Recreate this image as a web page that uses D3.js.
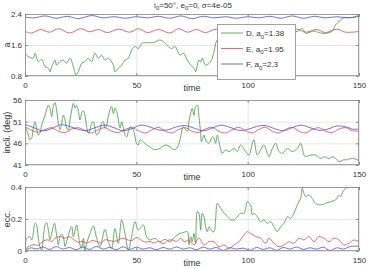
<!DOCTYPE html>
<html>
<head>
<meta charset="utf-8">
<script src="https://cdn.jsdelivr.net/npm/d3@7"></script>
<style>
  body { margin: 0; background: #fff; }
  svg { display: block; font-family: "Liberation Sans", Arial, sans-serif; }
</style>
</head>
<body>
<div id="chart"></div>
<script>
// tick labels
const timeTicks = [0, 50, 100, 150];
const aTicks = [0.8, 1.6, 2.4];
const incTicks = [41, 46, 51, 56];
const eccTicks = [0, 0.2, 0.4];

// series, [time, value]
const D_a = [[0,1.38],[1.5,1.30],[3.7,1.26],[4.5,1.39],[6,1.17],[7.5,1.23],[9,1.04],[10.5,1.00],[11.2,0.91],[12,1.04],[13.5,1.21],[14.2,1.08],[15.7,1.17],[17.2,1.21],[18.7,1.13],[20.2,1.26],[21.7,1.04],[22.9,0.83],[23.9,0.91],[25.5,1.13],[26.9,1.17],[28.4,1.26],[29.9,1.17],[31.4,1.39],[32.9,1.26],[34.4,1.34],[35.9,1.21],[37.4,1.26],[39.7,1.08],[40.4,0.91],[41.9,1.00],[43.4,1.08],[44.9,1.21],[46.4,1.26],[47.9,1.47],[49.4,1.56],[50.9,1.51],[52.4,1.64],[54.6,1.66],[57.6,1.66],[60.6,1.73],[62.1,1.69],[64.4,1.56],[65.9,1.51],[67.4,1.56],[69.6,1.34],[71.1,1.39],[72.9,1.21],[74.4,1.08],[75.9,1.00],[76.6,0.91],[78.1,1.21],[78.9,1.17],[79.6,1.26],[81.1,1.08],[83.4,1.17],[84.9,1.43],[86.4,1.73],[90,1.78],[100,1.82],[110,1.86],[120,1.92],[121.5,1.94],[123,1.97],[124.5,2.03],[126,1.90],[127.5,1.92],[129.8,1.96],[132,1.92],[134.3,1.90],[136.6,1.92],[138,1.96],[139.5,2.12],[141,2.20],[142.5,2.29],[144.7,2.31],[147,2.31],[150,2.37]];
const E_a = [[0,1.95],[3,1.91],[7,2.00],[11,1.93],[15,2.02],[20,1.91],[25,2.02],[29,1.94],[33,2.00],[37,1.92],[42,2.01],[47,1.93],[51,2.02],[55,1.92],[60,2.00],[65,1.91],[69,2.02],[73,1.93],[77,2.00],[81,1.92],[86,2.01],[90,1.93],[95,2.01],[99,1.92],[104,2.00],[108,1.93],[113,2.01],[117,1.92],[122,2.01],[126,1.93],[131,2.00],[135,1.92],[140,2.01],[144,1.93],[150,1.95]];
const F_a = [[0,2.32],[4,2.30],[9,2.35],[14,2.29],[19,2.34],[24,2.28],[30,2.36],[35,2.30],[40,2.33],[45,2.29],[50,2.33],[55,2.30],[60,2.34],[65,2.29],[70,2.35],[75,2.28],[80,2.34],[85,2.30],[90,2.33],[95,2.29],[100,2.33],[105,2.30],[110,2.34],[115,2.29],[120,2.35],[125,2.29],[130,2.34],[135,2.30],[140,2.33],[145,2.30],[150,2.34]];

const D_inc = [[0,50.2],[1.5,47.9],[2.2,46.8],[3,47.2],[3.7,49.5],[4.5,51.0],[5.2,49.5],[6,47.9],[6.7,48.3],[7.5,50.2],[9,52.5],[9.7,53.7],[10.5,54.8],[11.2,54.1],[12,52.2],[12.7,54.5],[13.5,55.4],[14.2,53.7],[15,50.6],[15.7,49.1],[16.5,50.6],[17.2,52.5],[18,51.4],[18.7,49.5],[19.5,49.1],[20.2,51.4],[21,53.7],[21.7,55.2],[22.5,54.1],[23.2,54.8],[24,53.3],[24.7,51.4],[25.4,52.9],[26.2,53.5],[26.9,52.5],[27.7,49.8],[28.4,48.3],[29.2,49.1],[29.9,50.6],[30.7,51.0],[31.4,49.5],[32.2,47.9],[33.7,49.1],[34.4,50.6],[35.2,51.0],[35.9,49.5],[36.7,50.2],[37.4,52.2],[38.2,53.7],[38.9,54.5],[39.7,52.9],[40.4,54.1],[41.2,53.3],[41.9,51.4],[42.7,49.5],[43.4,51.0],[44.2,49.5],[44.9,47.9],[45.7,47.5],[46.4,48.7],[47.2,49.8],[48.6,49.1],[50.1,46.0],[50.9,45.6],[51.6,46.8],[53.1,46.4],[54.6,45.6],[56.1,45.2],[57.6,44.6],[59.1,44.6],[60.6,44.8],[62.1,45.4],[63.6,45.6],[65.1,45.2],[66.6,44.6],[68.1,44.8],[69.6,46.8],[71.1,49.8],[72.9,48.7],[73.6,51.0],[74.4,52.9],[75.1,54.1],[75.9,52.5],[76.6,54.5],[77.4,54.8],[78.1,52.2],[78.9,48.3],[79.2,46.4],[80.4,47.9],[81.1,46.8],[82.6,46.0],[84.1,47.5],[84.9,47.2],[85.6,46.0],[86.4,47.9],[87.1,46.4],[88.6,43.7],[90.1,44.5],[91.6,44.1],[93.9,44.8],[95.4,44.1],[96.8,45.6],[99.1,44.1],[100.6,43.3],[102.1,46.0],[102.8,46.8],[104.3,43.3],[105.8,44.5],[107.3,45.6],[108.8,43.7],[109.6,42.9],[111.1,44.8],[112.6,46.0],[114.1,44.1],[115.6,43.7],[117.8,44.8],[120,44.1],[122.3,44.8],[123.8,46.0],[125.3,43.3],[126,42.9],[128.3,43.3],[130.5,43.3],[132.8,42.5],[134.3,42.9],[136.5,42.5],[138,42.9],[139.5,42.5],[141,41.8],[143.2,42.2],[144.7,42.2],[146.2,42.5],[147.7,42.5],[150,42.0]];
const E_inc = [[0,49.9],[3,49.0],[6,48.6],[9,49.2],[12,49.6],[15,48.8],[18,48.5],[21,49.3],[24,49.6],[27,48.9],[30,48.4],[33,49.2],[36,49.6],[39,48.8],[42,48.5],[45,49.2],[48,49.6],[51,48.9],[54,48.4],[57,49.1],[60,49.7],[63,48.8],[66,48.4],[69,49.2],[72,49.6],[75,48.8],[78,48.5],[81,49.3],[84,49.7],[87,48.8],[90,48.4],[93,49.1],[96,49.7],[99,48.9],[102,48.4],[105,49.2],[108,49.7],[111,48.8],[114,48.4],[117,49.2],[120,49.7],[123,48.8],[126,48.4],[129,49.2],[132,49.6],[135,48.8],[138,48.5],[141,49.3],[144,49.6],[147,48.9],[150,48.8]];
const F_inc = [[0,50.4],[4,49.6],[8,48.9],[12,49.4],[16,50.3],[20,49.9],[24,49.2],[28,49.0],[32,49.7],[36,50.2],[40,49.6],[44,48.9],[48,49.4],[52,50.2],[56,49.8],[60,49.1],[64,49.1],[68,49.8],[72,50.1],[76,49.5],[80,48.9],[84,49.5],[88,50.2],[92,49.7],[96,49.0],[100,49.2],[104,49.9],[108,50.1],[112,49.4],[116,48.9],[120,49.6],[124,50.2],[128,49.6],[132,49.0],[136,49.3],[140,50.0],[144,49.8],[148,49.2],[150,49.4]];

const D_ecc = [[0,0.0],[0.75,0.079],[2.2,0.090],[3,0.069],[3.7,0.11],[4.5,0.173],[5.2,0.163],[6,0.079],[6.7,0.027],[7.5,0.006],[8.2,0.079],[9,0.163],[9.7,0.177],[10.5,0.131],[11.2,0.069],[12,0.11],[13.2,0.173],[14.2,0.10],[15,0.038],[15.7,0.09],[16.5,0.106],[17.2,0.09],[18,0.027],[18.7,0.058],[20.2,0.131],[21,0.152],[21.7,0.09],[22.5,0.131],[23.2,0.163],[24,0.10],[24.7,0.038],[25.4,0.017],[26.2,0.079],[26.9,0.0],[27.7,0.048],[29.2,0.11],[30.7,0.156],[32.2,0.079],[33.7,0.027],[35.9,0.135],[37.4,0.058],[38.9,0.017],[40.4,0.14],[41.9,0.048],[43.4,0.194],[44.9,0.11],[46.4,0.006],[47.9,0.09],[49.4,0.183],[50.9,0.131],[53.1,0.163],[54.6,0.09],[56.1,0.069],[58.4,0.079],[60.6,0.058],[62.9,0.073],[65.1,0.058],[67.4,0.09],[69.6,0.11],[71.1,0.115],[72.9,0.121],[73.6,0.038],[74.4,0.09],[75.1,0.058],[75.9,0.11],[76.6,0.048],[77.4,0.246],[78.1,0.236],[78.9,0.131],[79.6,0.236],[80.4,0.215],[81.1,0.152],[81.9,0.121],[82.6,0.152],[84.1,0.121],[84.9,0.121],[85.6,0.194],[86.4,0.298],[87.9,0.267],[89.4,0.236],[90.9,0.215],[92.4,0.194],[93.9,0.194],[95.4,0.215],[96.8,0.236],[98.3,0.236],[99.1,0.267],[99.8,0.308],[101.3,0.288],[102.1,0.225],[102.8,0.236],[104.3,0.215],[105.8,0.183],[107.3,0.194],[108.8,0.173],[110.3,0.183],[111.8,0.152],[113.3,0.121],[114.8,0.152],[116.3,0.173],[117.8,0.215],[119.3,0.204],[120.8,0.236],[122.3,0.288],[123.8,0.329],[124.5,0.392],[125.3,0.360],[126,0.340],[127.5,0.350],[129,0.329],[130.5,0.298],[132.8,0.288],[135,0.298],[137.3,0.308],[139.5,0.319],[141,0.350],[141.7,0.340],[143.2,0.381],[144.7,0.398],[146.2,0.399],[147.7,0.398],[150,0.398]];
const E_ecc = [[0,0.01],[2,0.03],[4,0.04],[6,0.035],[8,0.06],[10,0.07],[12,0.06],[14,0.085],[16,0.09],[18,0.08],[20,0.09],[22,0.07],[24,0.055],[26,0.06],[28,0.05],[30,0.065],[32,0.06],[34,0.05],[36,0.07],[38,0.065],[40,0.06],[42,0.07],[44,0.08],[46,0.07],[48,0.065],[50,0.085],[52,0.07],[54,0.055],[56,0.06],[58,0.05],[60,0.06],[62,0.045],[64,0.065],[66,0.07],[68,0.06],[70,0.08],[71.4,0.058],[73.6,0.069],[75.9,0.038],[78.1,0.08],[80.4,0.038],[82.6,0.058],[84.9,0.058],[87.1,0.027],[89.4,0.038],[91.6,0.017],[93.9,0.038],[96.1,0.058],[98.3,0.10],[99.8,0.12],[101.3,0.11],[103.6,0.09],[105.8,0.08],[108.1,0.048],[109.6,0.08],[111.8,0.048],[114.1,0.027],[116.3,0.038],[118.5,0.058],[120.8,0.048],[123,0.08],[125.3,0.069],[127.5,0.09],[129.8,0.058],[132,0.09],[134.3,0.08],[136.5,0.058],[138.8,0.08],[141,0.069],[143.2,0.038],[145.5,0.048],[147.7,0.069],[150,0.058]];
const F_ecc = [[0,0.005],[3,0.02],[5,0.012],[8,0.025],[11,0.01],[14,0.028],[17,0.012],[20,0.022],[23,0.008],[26,0.025],[29,0.01],[32,0.028],[35,0.012],[38,0.022],[41,0.008],[44,0.026],[47,0.01],[50,0.024],[53,0.012],[56,0.02],[59,0.008],[62,0.022],[65,0.012],[68,0.025],[71,0.012],[74,0.02],[77,0.008],[80,0.024],[83,0.012],[86,0.022],[89,0.003],[92,0.02],[95,0.012],[98,0.018],[101,0.005],[104,0.022],[107,0.01],[110,0.02],[113,0.004],[116,0.022],[119,0.012],[122,0.025],[125,0.01],[128,0.02],[131,0.012],[134,0.024],[137,0.003],[140,0.02],[143,0.012],[146,0.028],[150,0.03]];

const names = ["D", "E", "F"];
const a0 = ["1.38", "1.95", "2.3"];
const colors = ["#3e9a3e", "#e3404e", "#4a4ae0"];

const W = 368, H = 269;
const svg = d3.select("#chart").append("svg").attr("width", W).attr("height", H);

const x = d3.scaleLinear().domain([0, 150]).range([25, 359]);

const panels = [
  { top: 14, bottom: 76, domain: [0.8, 2.4], ticks: aTicks, label: "a", fmt: d3.format(".1f"), series: [D_a, E_a, F_a] },
  { top: 100, bottom: 165, domain: [41, 56], ticks: incTicks, label: "incli. (deg)", fmt: d3.format("d"), series: [D_inc, E_inc, F_inc] },
  { top: 187, bottom: 251, domain: [0, 0.4], ticks: eccTicks, label: "ecc.", fmt: d => d === 0 ? "0" : d3.format(".1f")(d), series: [D_ecc, E_ecc, F_ecc] }
];

const textCol = "#333";
const axisCol = "#8a8a8a";

panels.forEach((p, i) => {
  const y = d3.scaleLinear().domain(p.domain).range([p.bottom, p.top]);
  const g = svg.append("g");
  const h = p.bottom - p.top;
  const w = x.range()[1] - x.range()[0];

  // grid
  g.append("g").attr("transform", `translate(0,${p.bottom})`)
    .call(d3.axisBottom(x).tickValues(timeTicks).tickSize(-h).tickFormat(""))
    .call(s => s.select(".domain").remove())
    .selectAll("line").attr("stroke", "#e6e6e6");
  g.append("g").attr("transform", `translate(${x.range()[0]},0)`)
    .call(d3.axisLeft(y).tickValues(p.ticks).tickSize(-w).tickFormat(""))
    .call(s => s.select(".domain").remove())
    .selectAll("line").attr("stroke", "#e6e6e6");

  // lines
  const clipId = "clip" + i;
  svg.append("clipPath").attr("id", clipId).append("rect")
    .attr("x", x.range()[0]).attr("y", p.top).attr("width", w).attr("height", h);
  const line = d3.line().x(d => x(d[0])).y(d => y(d[1])).curve(d3.curveCatmullRom);
  p.series.forEach((s, k) => {
    g.append("path").datum(s)
      .attr("clip-path", `url(#${clipId})`)
      .attr("fill", "none").attr("stroke", colors[k]).attr("stroke-width", 0.8)
      .attr("d", line);
  });

  // box + inward ticks
  g.append("rect").attr("x", x.range()[0] + 0.5).attr("y", p.top + 0.5)
    .attr("width", w - 1).attr("height", h - 1)
    .attr("fill", "none").attr("stroke", axisCol).attr("stroke-width", 0.8);

  const styleAxis = s => {
    s.select(".domain").remove();
    s.selectAll("line").attr("stroke", axisCol);
    s.selectAll("text").attr("fill", textCol).attr("font-size", 8)
      .attr("font-family", "Liberation Sans, Arial, sans-serif");
  };
  g.append("g").attr("transform", `translate(0,${p.bottom})`)
    .call(d3.axisBottom(x).tickValues(timeTicks).tickSize(-3).tickPadding(6))
    .call(styleAxis);
  g.append("g").attr("transform", `translate(0,${p.top})`)
    .call(d3.axisTop(x).tickValues(timeTicks).tickSize(-3).tickFormat(""))
    .call(styleAxis);
  g.append("g").attr("transform", `translate(${x.range()[0]},0)`)
    .call(d3.axisLeft(y).tickValues(p.ticks).tickSize(-3).tickPadding(3).tickFormat(p.fmt))
    .call(styleAxis);
  g.append("g").attr("transform", `translate(${x.range()[1]},0)`)
    .call(d3.axisRight(y).tickValues(p.ticks).tickSize(-3).tickFormat(""))
    .call(styleAxis);

  // labels
  g.append("text")
    .attr("transform", `translate(10,${(p.top + p.bottom) / 2}) rotate(-90)`)
    .attr("text-anchor", "middle").attr("font-size", 9).attr("fill", textCol)
    .text(p.label);
  g.append("text")
    .attr("x", (x.range()[0] + x.range()[1]) / 2).attr("y", p.bottom + 15)
    .attr("text-anchor", "middle").attr("font-size", 9).attr("fill", textCol)
    .text("time");
});

// title
const title = svg.append("text").attr("x", 193).attr("y", 7.5)
  .attr("text-anchor", "middle").attr("font-size", 8).attr("fill", textCol);
title.append("tspan").text("i");
title.append("tspan").attr("font-size", 6).attr("dy", 2.5).text("0");
title.append("tspan").attr("dy", -2.5).text("=50°, e");
title.append("tspan").attr("font-size", 6).attr("dy", 2.5).text("0");
title.append("tspan").attr("dy", -2.5).text("=0, σ=4e-05");

// legend
const legend = svg.append("g").attr("transform", "translate(217,24)");
legend.append("rect").attr("x", 0.5).attr("y", 0.5).attr("width", 78).attr("height", 55)
  .attr("fill", "#fff").attr("stroke", axisCol).attr("stroke-width", 0.8);
names.forEach((n, k) => {
  const cy = 9 + k * 15.5;
  legend.append("line").attr("x1", 4).attr("x2", 26).attr("y1", cy).attr("y2", cy)
    .attr("stroke", colors[k]).attr("stroke-width", 0.8);
  const t = legend.append("text").attr("x", 29).attr("y", cy + 3)
    .attr("font-size", 8).attr("fill", textCol);
  t.append("tspan").text(n + ", a");
  t.append("tspan").attr("font-size", 6).attr("dy", 2.5).text("0");
  t.append("tspan").attr("dy", -2.5).text("=" + a0[k]);
});
</script>
</body>
</html>
